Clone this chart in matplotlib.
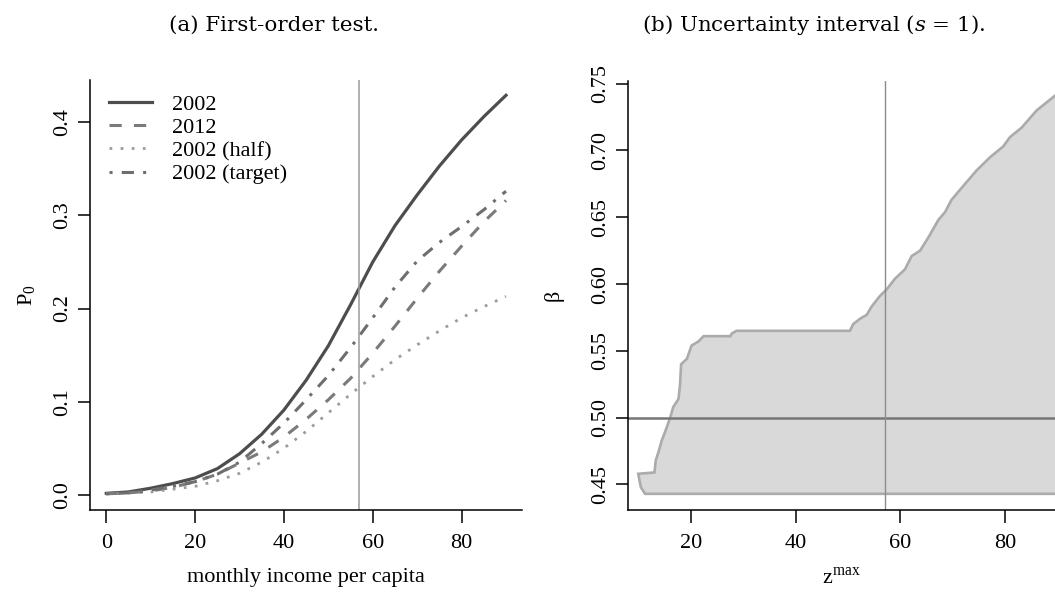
import matplotlib.pyplot as plt

plt.rcParams['font.family'] = 'Liberation Serif'
plt.rcParams['mathtext.fontset'] = 'custom'
plt.rcParams['mathtext.rm'] = 'Liberation Serif'
plt.rcParams['mathtext.it'] = 'DejaVu Serif:italic'

# (a) poverty headcount curves
income = [0, 5, 10, 15, 20, 25, 30, 35, 40, 45, 50, 55, 60, 65, 70, 75, 80, 85, 90]
p0_2002 = [0.0015, 0.003, 0.007, 0.012, 0.018, 0.028, 0.044, 0.065, 0.091, 0.123,
           0.160, 0.204, 0.250, 0.289, 0.322, 0.353, 0.381, 0.406, 0.429]
p0_2012 = [0.001, 0.002, 0.004, 0.008, 0.014, 0.022, 0.034, 0.046, 0.062, 0.081,
           0.102, 0.125, 0.152, 0.181, 0.211, 0.240, 0.267, 0.293, 0.316]
p0_half = [0.001, 0.002, 0.003, 0.006, 0.009, 0.015, 0.023, 0.035, 0.050, 0.068,
           0.088, 0.108, 0.127, 0.145, 0.161, 0.176, 0.190, 0.202, 0.213]
p0_target = [0.001, 0.002, 0.005, 0.009, 0.014, 0.022, 0.035, 0.055, 0.077, 0.102,
             0.128, 0.158, 0.190, 0.223, 0.251, 0.271, 0.288, 0.306, 0.326]
z_line = 57

# (b) uncertainty interval for beta
z_upper = [11.2, 10.4, 9.9, 13.0, 13.25, 13.75, 14.4, 15.0, 16.0, 16.6, 17.6, 17.9,
           18.1, 19.2, 20.1, 21.4, 22.4, 27.5, 27.8, 28.7, 50.4, 51.0, 52.3, 53.6,
           54.5, 56.1, 57.4, 59.0, 60.9, 62.2, 63.8, 65.4, 67.3, 68.6, 69.8, 72.4,
           74.6, 77.2, 79.7, 81.0, 83.2, 86.1, 89.6, 90.5]
beta_upper = [0.443, 0.448, 0.458, 0.459, 0.468, 0.474, 0.483, 0.489, 0.500, 0.508,
              0.514, 0.525, 0.540, 0.544, 0.554, 0.557, 0.561, 0.561, 0.563, 0.565,
              0.565, 0.570, 0.574, 0.577, 0.583, 0.591, 0.596, 0.604, 0.611, 0.621,
              0.625, 0.635, 0.648, 0.654, 0.663, 0.675, 0.685, 0.695, 0.703, 0.710,
              0.717, 0.730, 0.741, 0.743]
z_lower = [90.5, 11.2]
beta_lower = [0.443, 0.443]
beta_ref = 0.5

W, H = 1055, 592
fig = plt.figure(figsize=(W / 100, H / 100), dpi=100)


def px_axes(x0, y0, x1, y1):
    return fig.add_axes([x0 / W, 1 - y1 / H, (x1 - x0) / W, (y1 - y0) / H])


def r_style(ax):
    for s in ['top', 'right']:
        ax.spines[s].set_visible(False)
    for s in ['left', 'bottom']:
        ax.spines[s].set_linewidth(1.1)
    ax.tick_params(direction='out', length=9, width=1.1, labelsize=16, pad=8)
    ax.tick_params(axis='y', pad=4)
    for lab in ax.get_yticklabels():
        lab.set_rotation(90)
        lab.set_va('center')


# ---- panel (a)
ax1 = px_axes(90.3, 80, 522, 510)
ax1.plot(income, p0_2002, color='#4d4d4d', lw=2.3, label='2002')
ax1.plot(income, p0_2012, color='#7a7a7a', lw=2.2, ls=(0, (4, 4)), label='2012')
ax1.plot(income, p0_half, color='#9c9c9c', lw=2.0, ls=(0, (1, 3)), label='2002 (half)')
ax1.plot(income, p0_target, color='#6e6e6e', lw=2.2, ls=(0, (1, 3, 4, 3)), label='2002 (target)')
ax1.axvline(z_line, color='#9a9a9a', lw=1.1)
ax1.set_xlim(-3.6, 93.6)
ax1.set_ylim(-0.0164, 0.4454)
ax1.set_xticks([0, 20, 40, 60, 80])
ax1.set_yticks([0.0, 0.1, 0.2, 0.3, 0.4])
ax1.set_yticklabels(['0.0', '0.1', '0.2', '0.3', '0.4'])
r_style(ax1)
ax1.set_xlabel('monthly income per capita', fontsize=16, va='center')
ax1.xaxis.set_label_coords(0.5, -0.158)
ax1.set_ylabel(r'$\mathrm{P}_0$', fontsize=16, va='center')
ax1.yaxis.set_label_coords(-0.147, 0.5)
ax1.legend(loc='upper left', bbox_to_anchor=(0.043, 0.967), frameon=False, fontsize=16,
           handlelength=1.95, handletextpad=0.9, labelspacing=0.12,
           borderpad=0, borderaxespad=0)

# ---- panel (b)
ax2 = px_axes(628.3, 80.7, 1055, 510)
ax2.fill(z_upper + z_lower, beta_upper + beta_lower, facecolor='#d9d9d9',
         edgecolor='#ababab', lw=1.9)
ax2.axhline(beta_ref, color='#777777', lw=1.8)
ax2.axvline(z_line, color='#8c8c8c', lw=1.0)
ax2.set_xlim(8.0, 89.6)
ax2.set_ylim(0.4309, 0.7522)
ax2.set_xticks([20, 40, 60, 80])
ax2.set_yticks([0.45, 0.50, 0.55, 0.60, 0.65, 0.70, 0.75])
ax2.set_yticklabels(['0.45', '0.50', '0.55', '0.60', '0.65', '0.70', '0.75'])
r_style(ax2)
ax2.set_xlabel(r'$\mathrm{z}^{\mathrm{max}}$', fontsize=16, va='center')
ax2.xaxis.set_label_coords(0.5, -0.158)
ax2.set_ylabel('β', fontsize=16, va='center')
ax2.yaxis.set_label_coords(-0.176, 0.5)

fig.text(274 / W, 1 - 25 / H, '(a) First-order test.', ha='center', va='center',
         family='DejaVu Serif', fontsize=15.4)
fig.text(814 / W, 1 - 25 / H, '(b) Uncertainty interval ($s$ = 1).', ha='center',
         va='center', family='DejaVu Serif', fontsize=15.4)

fig.savefig('out.png', dpi=100)
